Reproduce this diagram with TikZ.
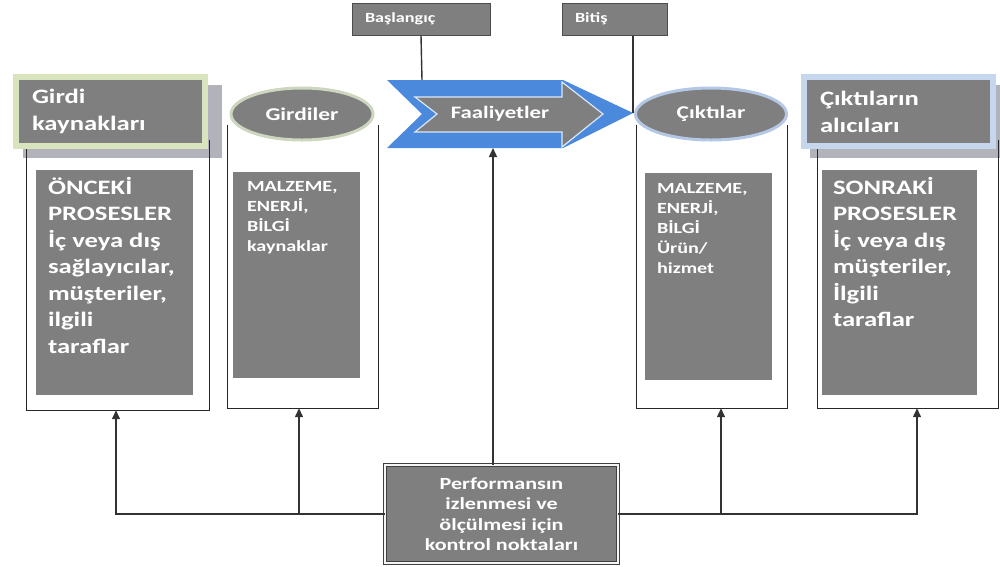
\documentclass[tikz,border=0pt]{standalone}
\usepackage{fontspec}
\setmainfont{Carlito}[FakeStretch=1.3]
\usetikzlibrary{positioning, arrows.meta, shapes.geometric}
\definecolor{boxgray}{HTML}{7F7F7F}
\definecolor{shadowgray}{HTML}{B2B2BA}
\definecolor{palegreen}{HTML}{D7E4BD}
\definecolor{paleblue}{HTML}{C6D6EC}
\definecolor{chevblue}{HTML}{4A89DC}
\definecolor{ringgreen}{HTML}{CDD6BE}
\definecolor{ringblue}{HTML}{B4C8E6}

\begin{document}
\begin{tikzpicture}[x=1pt, y=-1pt,
  every node/.style={inner sep=0pt, text=white},
  frame/.style={draw=black!85, line width=1.3pt},
  shade/.style={fill=shadowgray},
  header/.style={
    fill=boxgray, line width=6pt, minimum width=189pt, minimum height=69pt,
    text width=157pt, align=left, font=\bfseries\fontsize{20.5}{27}\selectfont
  },
  ring/.style={
    ellipse, fill=boxgray, line width=3pt, minimum height=52pt,
    font=\bfseries\fontsize{18}{21}\selectfont
  },
  graybox/.style={fill=boxgray},
  bigtext/.style={align=left, font=\bfseries\fontsize{20.5}{26.5}\selectfont},
  smalltext/.style={align=left, font=\bfseries\fontsize{15.5}{20.2}\selectfont},
  tag/.style={
    fill=boxgray, draw=black!70, line width=1pt, minimum height=32pt,
    align=left, font=\bfseries\fontsize{14}{16}\selectfont
  },
  link/.style={draw=black!80, line width=1.4pt},
  arrow/.style={link, -{Triangle[length=9pt, width=8pt]}}
]
  \useasboundingbox (0,0) rectangle (1000,566);

  % columns
  \node[minimum width=182pt, minimum height=270pt] (srcframe) at (118,275) {};
  \node[minimum width=150pt, minimum height=283pt] (inframe) at (303,266.5) {};
  \node[minimum width=150pt, minimum height=283pt] (outframe) at (712,266.5) {};
  \node[minimum width=180pt, minimum height=268pt] (dstframe) at (908,274) {};

  \fill[shade] (23,85) rectangle (222,158);
  \fill[shade] (810,85) rectangle (1000,158);
  \foreach \f in {srcframe, inframe, outframe, dstframe}
    \draw[frame] (\f.north west) -- (\f.south west) -- (\f.south east) -- (\f.north east);

  \node[header, draw=palegreen] (srchead) at (110.5,111) {Girdi\\kaynakları};
  \node[header, draw=paleblue] (dsthead) at (898.5,111.5) {Çıktıların\\alıcıları};
  \node[ring, draw=ringgreen, minimum width=142pt] (inell) at (302,114) {Girdiler};
  \node[ring, draw=ringblue, minimum width=151pt] (outell) at (711,114) {Çıktılar};

  \node[graybox, minimum width=157pt, minimum height=225pt] (srcbody) at (114.5,282.5) {};
  \node[graybox, minimum width=127pt, minimum height=206pt] (inbody) at (296.5,275) {};
  \node[graybox, minimum width=127pt, minimum height=207pt] (outbody) at (708.5,276.5) {};
  \node[graybox, minimum width=155pt, minimum height=225pt] (dstbody) at (899.5,282.5) {};

  \node[bigtext, below right=7pt and 12pt of srcbody.north west] (srctext)
    {ÖNCEKİ\\PROSESLER\\İç veya dış\\sağlayıcılar,\\müşteriler,\\ilgili\\taraflar};
  \node[smalltext, below right=9pt and 14pt of inbody.north west] (intext)
    {MALZEME,\\ENERJİ,\\BİLGİ\\kaynaklar};
  \node[smalltext, below right=10pt and 12pt of outbody.north west] (outtext)
    {MALZEME,\\ENERJİ,\\BİLGİ\\Ürün/\\hizmet};
  \node[bigtext, below right=7pt and 11pt of dstbody.north west] (dsttext)
    {SONRAKİ\\PROSESLER\\İç veya dış\\müşteriler,\\İlgili\\taraflar};

  % activity chevron
  \fill[chevblue] (387,80) -- (563,80) -- (633,113) -- (563,148) -- (387,148) -- (422,114) -- cycle;
  \filldraw[fill=boxgray, draw=white!80!chevblue, line width=1.2pt]
    (415,97) -- (562,97) -- (562,82) -- (603,114) -- (562,147) -- (562,132) -- (415,132) -- (437,114) -- cycle;
  \node[font=\bfseries\fontsize{17.5}{20}\selectfont] (act) at (500,114) {Faaliyetler};
  \coordinate (chevtop) at (422,80);
  \coordinate (chevtip) at (633,113);
  \coordinate (actin) at (493,148);

  \node[tag, minimum width=138pt, text width=112pt] (start) at (421,19) {Başlangıç};
  \node[tag, minimum width=105pt, text width=79pt] (end) at (614.5,19) {Bitiş};
  \draw[link] (start.south) -- (chevtop);
  \draw[link] (end.south -| chevtip) -- (chevtip);

  % control points
  \node[fill=boxgray, draw=black!75, line width=0.7pt, double=white!92!gray, double distance=2pt,
    minimum width=233pt, minimum height=98pt, align=center,
    font=\bfseries\fontsize{17}{20.5}\selectfont] (perf) at (501.5,514)
    {Performansın\\izlenmesi ve\\ölçülmesi için\\kontrol noktaları};

  \coordinate (srctap) at ([xshift=-2pt]srcframe.south);
  \coordinate (intap) at ([xshift=-4pt]inframe.south);
  \coordinate (outtap) at ([xshift=9pt]outframe.south);
  \coordinate (dsttap) at ([xshift=9pt]dstframe.south);

  \draw[arrow] (perf.west) -| (srctap);
  \draw[arrow] (perf.west -| intap) -- (intap);
  \draw[arrow] (perf.east) -| (dsttap);
  \draw[arrow] (perf.east -| outtap) -- (outtap);
  \draw[arrow] (perf.north -| actin) -- (actin);
\end{tikzpicture}
\end{document}
